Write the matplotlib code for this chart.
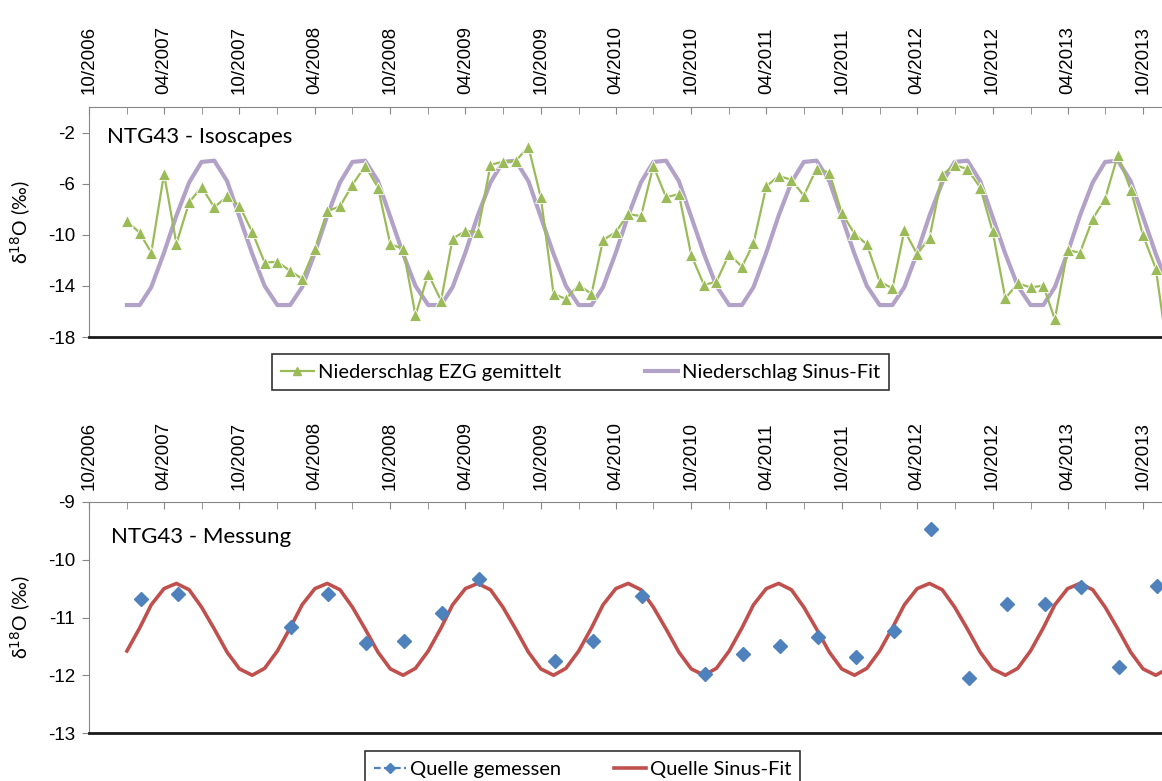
import matplotlib
matplotlib.use('Agg')
import matplotlib.pyplot as plt
import matplotlib.dates as mdates
from matplotlib.lines import Line2D
import pandas as pd

plt.rcParams['axes.unicode_minus'] = False

# monthly dates of the isoscape / fit series
months = pd.date_range('2007-01-01', '2013-12-01', freq='MS')

# Niederschlag EZG gemittelt (green triangles)
niederschlag_ezg = [
    -8.94, -9.84, -11.40, -5.23, -10.70, -7.46, -6.27, -7.85, -7.00, -7.72, -9.79, -12.17,
    -12.12, -12.82, -13.45, -11.09, -8.16, -7.77, -6.09, -4.61, -6.30, -10.75, -11.09, -16.30,
    -13.08, -15.15, -10.30, -9.71, -9.79, -4.53, -4.28, -4.23, -3.11, -7.07, -14.63, -15.02,
    -13.93, -14.63, -10.41, -9.79, -8.37, -8.55, -4.61, -7.07, -6.81, -11.60, -13.93, -13.67,
    -11.52, -12.50, -10.67, -6.22, -5.39, -5.70, -6.94, -4.84, -5.13, -8.29, -9.92, -10.75,
    -13.67, -14.19, -9.66, -11.52, -10.23, -5.31, -4.53, -4.87, -6.30, -9.71, -14.97, -13.80,
    -14.12, -13.98, -16.62, -11.21, -11.40, -8.76, -7.17, -3.76, -6.47, -10.05, -12.64, -19.50,
]

# Niederschlag Sinus-Fit (purple)
niederschlag_fit = [
    -15.5, -15.5, -14.1, -11.4, -8.5, -5.9, -4.3, -4.2, -5.8, -8.6, -11.5, -14.0,
    -15.5, -15.5, -14.1, -11.4, -8.5, -5.9, -4.3, -4.2, -5.8, -8.6, -11.5, -14.0,
    -15.5, -15.5, -14.1, -11.4, -8.5, -5.9, -4.3, -4.2, -5.8, -8.6, -11.5, -14.0,
    -15.5, -15.5, -14.1, -11.4, -8.5, -5.9, -4.3, -4.2, -5.8, -8.6, -11.5, -14.0,
    -15.5, -15.5, -14.1, -11.4, -8.5, -5.9, -4.3, -4.2, -5.8, -8.6, -11.5, -14.0,
    -15.5, -15.5, -14.1, -11.4, -8.5, -5.9, -4.3, -4.2, -5.8, -8.6, -11.5, -14.0,
    -15.5, -15.5, -14.1, -11.4, -8.5, -5.9, -4.3, -4.2, -5.8, -8.6, -11.5, -14.0,
]

# Quelle Sinus-Fit (red)
quelle_fit = [
    -11.58, -11.18, -10.78, -10.50, -10.41, -10.52, -10.82, -11.20, -11.60, -11.89, -12.00, -11.88,
    -11.58, -11.18, -10.78, -10.50, -10.41, -10.52, -10.82, -11.20, -11.60, -11.89, -12.00, -11.88,
    -11.58, -11.18, -10.78, -10.50, -10.41, -10.52, -10.82, -11.20, -11.60, -11.89, -12.00, -11.88,
    -11.58, -11.18, -10.78, -10.50, -10.41, -10.52, -10.82, -11.20, -11.60, -11.89, -12.00, -11.88,
    -11.58, -11.18, -10.78, -10.50, -10.41, -10.52, -10.82, -11.20, -11.60, -11.89, -12.00, -11.88,
    -11.58, -11.18, -10.78, -10.50, -10.41, -10.52, -10.82, -11.20, -11.60, -11.89, -12.00, -11.88,
    -11.58, -11.18, -10.78, -10.50, -10.41, -10.52, -10.82, -11.20, -11.60, -11.89, -12.00, -11.88,
]

# Quelle gemessen (blue diamonds)
quelle_dates = pd.to_datetime([
    '2007-02-04', '2007-05-04', '2008-02-04', '2008-05-04', '2008-08-04', '2008-11-04',
    '2009-02-04', '2009-05-04', '2009-11-04', '2010-02-04', '2010-06-04', '2010-11-04',
    '2011-02-04', '2011-05-04', '2011-08-04', '2011-11-04', '2012-02-04', '2012-05-04',
    '2012-08-04', '2012-11-04', '2013-02-04', '2013-05-04', '2013-08-04', '2013-11-04',
])
quelle_gemessen = [
    -10.68, -10.59, -11.17, -10.59, -11.44, -11.40,
    -10.93, -10.33, -11.76, -11.41, -10.63, -11.98,
    -11.64, -11.49, -11.34, -11.69, -11.24, -9.46,
    -12.04, -10.77, -10.77, -10.48, -11.85, -10.45,
]

GREEN = '#9BBB59'
PURPLE = '#B3A2C7'
BLUE = '#4F81BD'
RED = '#C0504D'
GRAY = '#868686'
TXT_FONT = ['Lato', 'DejaVu Sans']
TICK_FONT = 'Liberation Sans'
TICK_SIZE = 13.5

W, H = 1162, 781
fig = plt.figure(figsize=(W / 100, H / 100), dpi=100)


def make_axes(top_px, bottom_px):
    left_px = 89
    ax = fig.add_axes([left_px / W, 1 - bottom_px / H, 1 - left_px / W, (bottom_px - top_px) / H])
    ax.set_xlim(pd.Timestamp('2006-10-01'), pd.Timestamp('2013-11-16'))
    ax.xaxis.tick_top()
    ax.xaxis.set_major_locator(mdates.MonthLocator(bymonth=[4, 10]))
    ax.xaxis.set_minor_locator(mdates.MonthLocator(bymonth=[1, 7]))
    ax.xaxis.set_major_formatter(mdates.DateFormatter('%m/%Y'))
    ax.tick_params(axis='x', which='both', direction='in', length=5, color=GRAY,
                   top=True, bottom=False, labelrotation=90, pad=9)
    ax.tick_params(axis='y', direction='out', length=5, color=GRAY, pad=5)
    ax.spines['right'].set_visible(False)
    ax.spines['top'].set_color(GRAY)
    ax.spines['left'].set_color(GRAY)
    ax.spines['bottom'].set_color('#1a1a1a')
    ax.spines['bottom'].set_linewidth(2)
    ax.set_ylabel('δ$^{18}$O (‰)', fontsize=14, family=TXT_FONT)
    ax.yaxis.set_label_coords(-0.052, 0.5)
    return ax


def style_ticks(ax):
    for lab in ax.get_xticklabels() + ax.get_yticklabels():
        lab.set_fontfamily(TICK_FONT)
        lab.set_fontsize(TICK_SIZE)


# --- top panel: Isoscapes ---
ax1 = make_axes(107, 337)
ax1.set_ylim(-18, 0)
ax1.set_yticks([-18, -14, -10, -6, -2])
style_ticks(ax1)
ax1.plot(months, niederschlag_fit, color=PURPLE, lw=3, zorder=2)
ax1.plot(months, niederschlag_ezg, color=GREEN, lw=1.6, marker='^', ms=9,
         mec='white', mew=0.6, zorder=3)
ax1.text(0.017, 0.843, 'NTG43 - Isoscapes', transform=ax1.transAxes,
         fontsize=16, family=TXT_FONT, va='baseline')

# --- bottom panel: Messung ---
ax2 = make_axes(502, 733)
ax2.set_ylim(-13, -9)
ax2.set_yticks([-13, -12, -11, -10, -9])
style_ticks(ax2)
ax2.plot(months, quelle_fit, color=RED, lw=2.6, zorder=2)
ax2.plot(quelle_dates, quelle_gemessen, ls='none', marker='D', ms=7.5,
         color=BLUE, zorder=3)
ax2.text(0.0205, 0.822, 'NTG43 - Messung', transform=ax2.transAxes,
         fontsize=16, family=TXT_FONT, va='baseline')

# legends
leg_kw = dict(loc='center', ncol=2, frameon=True, fancybox=False, handlelength=1.6,
              handletextpad=0.2, borderpad=0.45,
              prop={'family': TXT_FONT, 'size': 14.5})
h1 = [Line2D([], [], color=GREEN, lw=1.6, marker='^', ms=6),
      Line2D([], [], color=PURPLE, lw=3)]
leg1 = fig.legend(h1, ['Niederschlag EZG gemittelt', 'Niederschlag Sinus-Fit'],
                  bbox_to_anchor=(580.5 / W, 1 - 372 / H), columnspacing=4.2, **leg_kw)
leg1.get_frame().set_edgecolor('black')
leg1.get_frame().set_linewidth(1.2)

h2 = [Line2D([], [], color=BLUE, lw=1.6, ls='--', dashes=(3, 1.5), marker='D', ms=5),
      Line2D([], [], color=RED, lw=2.6)]
leg2 = fig.legend(h2, ['Quelle gemessen', 'Quelle Sinus-Fit'],
                  bbox_to_anchor=(582.5 / W, 1 - 769 / H), columnspacing=2.6, **leg_kw)
leg2.get_frame().set_edgecolor('black')
leg2.get_frame().set_linewidth(1.2)

fig.savefig('out.png', dpi=100)
